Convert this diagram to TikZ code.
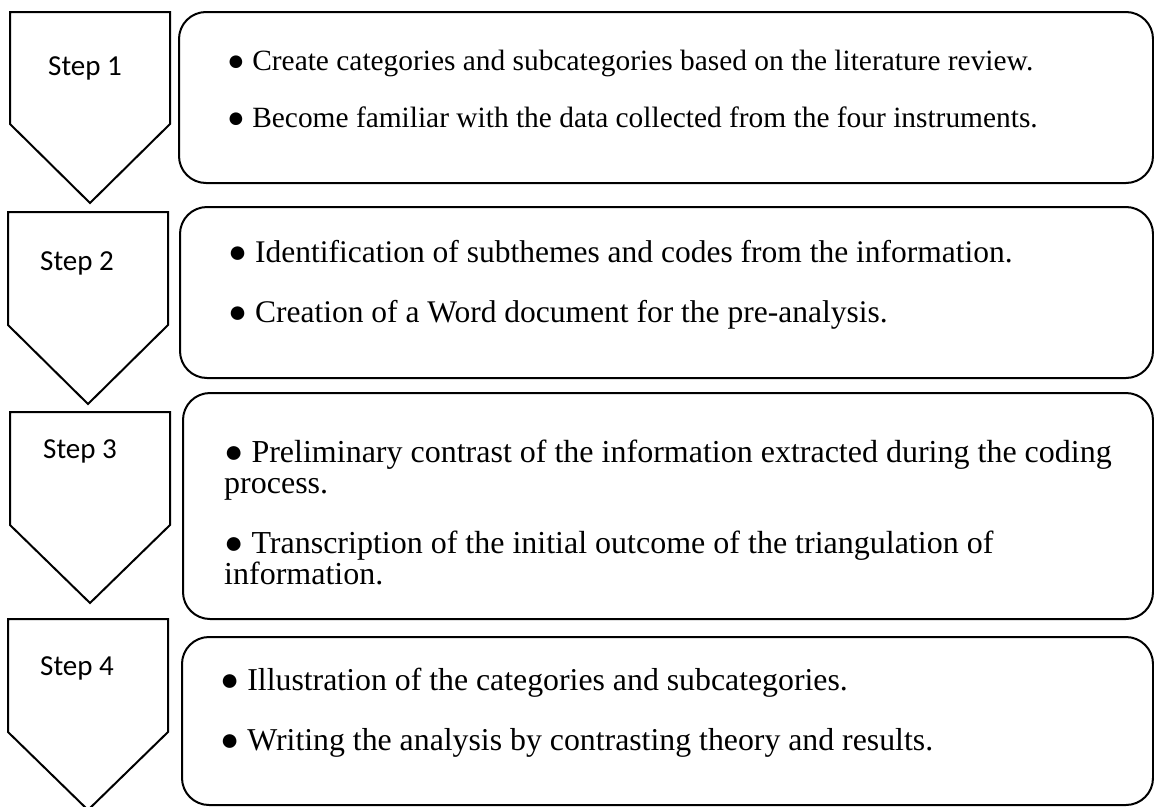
\documentclass[tikz,border=0pt]{standalone}
\usepackage{fontspec}
\setmainfont{Liberation Serif}
\newfontfamily\stepfont{Carlito}
\begin{document}
\begin{tikzpicture}[x=1pt,y=-1pt,
  chev/.style={draw=black,line width=2pt,line join=miter},
  boxr/.style={draw=black,line width=2pt,rounded corners=27pt},
  steplbl/.style={anchor=base west,inner sep=0pt,font=\stepfont\fontsize{29}{31}\selectfont},
  itemA/.style={anchor=base west,inner sep=0pt,font=\fontsize{29.4}{31}\selectfont},
  itemB/.style={anchor=base west,inner sep=0pt,font=\fontsize{31.5}{33}\selectfont},
  itemC/.style={anchor=base west,inner sep=0pt,font=\fontsize{32}{34}\selectfont},
  itemD/.style={anchor=base west,inner sep=0pt,font=\fontsize{31.8}{34}\selectfont}]
\useasboundingbox (0,0) rectangle (1154,806);
% chevrons
\draw[chev] (10,12) -- (170,12) -- (170,124) -- (90,203) -- (10,124) -- cycle;
\draw[chev] (8,212) -- (168,212) -- (168,325) -- (88,404) -- (8,325) -- cycle;
\draw[chev] (10,412) -- (170,412) -- (170,525) -- (90,603) -- (10,525) -- cycle;
\draw[chev] (8,619) -- (168,619) -- (168,732) -- (88,810) -- (8,732) -- cycle;
\node[steplbl] (s1) at (48,75) {Step 1};
\node[steplbl] (s2) at (40,270) {Step 2};
\node[steplbl] (s3) at (43,458) {Step 3};
\node[steplbl] (s4) at (40,675) {Step 4};
% boxes
\draw[boxr] (179,12) rectangle (1153,183);
\draw[boxr] (180,207) rectangle (1153,378);
\draw[boxr] (183,393) rectangle (1153,619);
\draw[boxr] (182,637) rectangle (1153,805);
% texts
\node[itemA] (b1a) at (227,70) {● Create categories and subcategories based on the literature review.};
\node[itemA] (b1b) at (227,127) {● Become familiar with the data collected from the four instruments.};
\node[itemB] (b2a) at (228,262) {● Identification of subthemes and codes from the information.};
\node[itemB] (b2b) at (228,322) {● Creation of a Word document for the pre-analysis.};
\node[itemC] (b3a) at (224,462) {● Preliminary contrast of the information extracted during the coding};
\node[itemC] (b3a2) at (224,493) {process.};
\node[itemC] (b3b) at (224,553) {● Transcription of the initial outcome of the triangulation of};
\node[itemC] (b3b2) at (224,584) {information.};
\node[itemD] (b4a) at (220,690) {● Illustration of the categories and subcategories.};
\node[itemD] (b4b) at (220,750) {● Writing the analysis by contrasting theory and results.};
\end{tikzpicture}
\end{document}
